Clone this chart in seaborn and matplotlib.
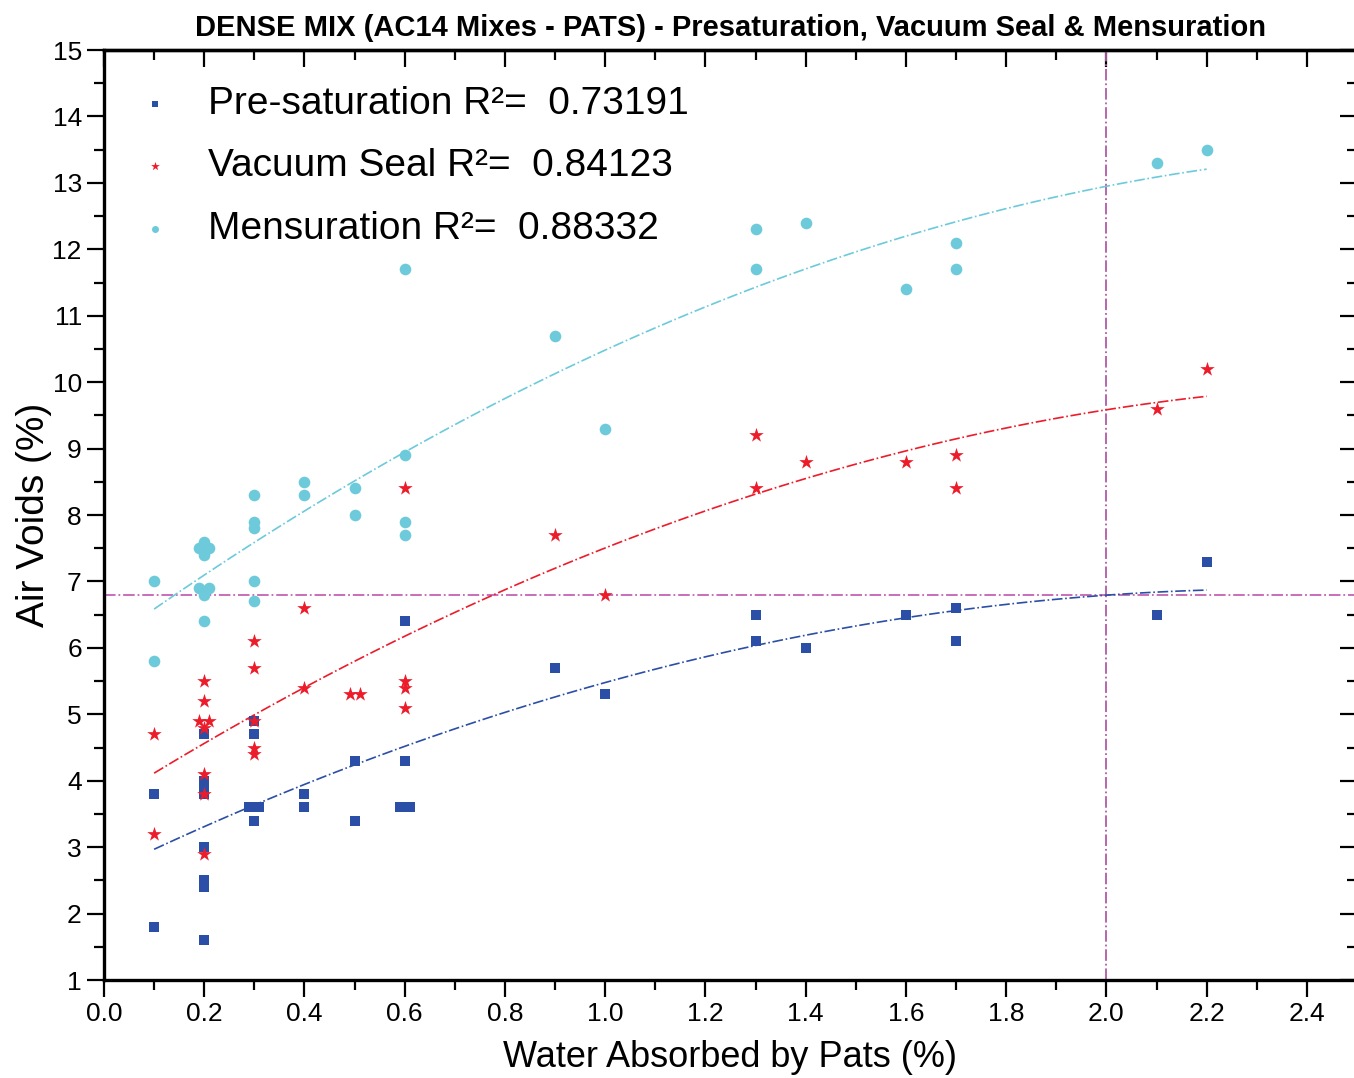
import matplotlib
matplotlib.use("Agg")
import matplotlib.pyplot as plt
import seaborn as sns
import pandas as pd
from matplotlib.ticker import MultipleLocator, FormatStrFormatter

# Pre-saturation (squares)
pre_x = [0.1, 0.1,
         0.2, 0.2, 0.2, 0.2, 0.2, 0.2, 0.2, 0.2,
         0.3, 0.3, 0.3, 0.29, 0.31,
         0.4, 0.4, 0.5, 0.5,
         0.6, 0.6, 0.59, 0.61,
         0.9, 1.0, 1.3, 1.3, 1.4, 1.6, 1.7, 1.7, 2.1, 2.2]
pre_y = [3.8, 1.8,
         4.7, 4.0, 3.9, 3.8, 3.0, 2.5, 2.4, 1.6,
         4.9, 4.7, 3.4, 3.6, 3.6,
         3.8, 3.6, 4.3, 3.4,
         6.4, 4.3, 3.6, 3.6,
         5.7, 5.3, 6.5, 6.1, 6.0, 6.5, 6.6, 6.1, 6.5, 7.3]

# Vacuum Seal (stars)
vac_x = [0.1, 0.1,
         0.2, 0.2, 0.19, 0.21, 0.2, 0.2, 0.2, 0.2,
         0.3, 0.3, 0.3, 0.3, 0.3,
         0.4, 0.4, 0.49, 0.51,
         0.6, 0.6, 0.6, 0.6,
         0.9, 1.0, 1.3, 1.3, 1.4, 1.6, 1.7, 1.7, 2.1, 2.2]
vac_y = [4.7, 3.2,
         5.5, 5.2, 4.9, 4.9, 4.8, 4.1, 3.8, 2.9,
         6.1, 5.7, 4.9, 4.5, 4.4,
         6.6, 5.4, 5.3, 5.3,
         8.4, 5.5, 5.4, 5.1,
         7.7, 6.8, 9.2, 8.4, 8.8, 8.8, 8.9, 8.4, 9.6, 10.2]

# Mensuration (circles)
men_x = [0.1, 0.1,
         0.2, 0.19, 0.21, 0.2, 0.19, 0.21, 0.2, 0.2,
         0.3, 0.3, 0.3, 0.3, 0.3,
         0.4, 0.4, 0.5, 0.5,
         0.6, 0.6, 0.6, 0.6,
         0.9, 1.0, 1.3, 1.3, 1.4, 1.6, 1.7, 1.7, 2.1, 2.2]
men_y = [7.0, 5.8,
         7.6, 7.5, 7.5, 7.4, 6.9, 6.9, 6.8, 6.4,
         8.3, 7.9, 7.8, 7.0, 6.7,
         8.5, 8.3, 8.4, 8.0,
         11.7, 8.9, 7.9, 7.7,
         10.7, 9.3, 12.3, 11.7, 12.4, 11.4, 12.1, 11.7, 13.3, 13.5]

labels = ["Pre-saturation R²=  0.73191",
          "Vacuum Seal R²=  0.84123",
          "Mensuration R²=  0.88332"]
colores = ["#2b4ea6", "#ec1c2a", "#6ccadb"]
markers = ["s", "*", "o"]
msizes = [55, 120, 70]
ref_y = 6.8
ref_x = 2.0

sns.set_style("ticks")
plt.rcParams['font.family'] = ['Liberation Sans Narrow', 'Liberation Sans', 'DejaVu Sans']
plt.rcParams.update({"text.color": "black", "axes.labelcolor": "black",
                     "xtick.color": "black", "ytick.color": "black",
                     "axes.edgecolor": "black"})

series = [(pre_x, pre_y), (vac_x, vac_y), (men_x, men_y)]

fig = plt.figure(figsize=(13.54, 10.78), dpi=100)
ax = fig.add_axes([0.0768, 0.0909, 0.9254, 0.8627])

for (xs, ys), lab, c, m, s in zip(series, labels, colores, markers, msizes):
    df = pd.DataFrame({"x": xs, "y": ys})
    sns.regplot(data=df, x="x", y="y", order=2, ci=None, truncate=True,
                scatter=False, ax=ax, color=c,
                line_kws={"linestyle": "-.", "linewidth": 1.2, "zorder": 2})
    sns.scatterplot(data=df, x="x", y="y", ax=ax, color=c, marker=m, s=s,
                    linewidth=0, label=lab, zorder=3)

ax.axhline(ref_y, color="#c462b4", linestyle="-.", linewidth=1.3, zorder=1)
ax.axvline(ref_x, color="#b05aa8", linestyle="-.", linewidth=1.3, zorder=1)

ax.set_xlim(0, 2.5)
ax.set_ylim(1, 15)
ax.xaxis.set_major_locator(MultipleLocator(0.2))
ax.xaxis.set_minor_locator(MultipleLocator(0.1))
ax.xaxis.set_major_formatter(FormatStrFormatter('%.1f'))
ax.yaxis.set_major_locator(MultipleLocator(1))
ax.yaxis.set_minor_locator(MultipleLocator(0.5))

for sp in ax.spines.values():
    sp.set_linewidth(2.4)
    sp.set_visible(True)

ax.tick_params(which="major", direction="out", length=12, width=1.6, labelsize=19, pad=4)
ax.tick_params(which="minor", direction="out", length=7, width=1.6)

top = ax.secondary_xaxis("top")
top.xaxis.set_major_locator(MultipleLocator(0.2))
top.xaxis.set_minor_locator(MultipleLocator(0.1))
top.tick_params(which="major", direction="in", length=12, width=1.6, labeltop=False)
top.tick_params(which="minor", direction="in", length=7, width=1.6)
top.spines["top"].set_linewidth(2.4)

right = ax.secondary_yaxis("right")
right.yaxis.set_major_locator(MultipleLocator(1))
right.yaxis.set_minor_locator(MultipleLocator(0.5))
right.tick_params(which="major", direction="in", length=12, width=1.6, labelright=False)
right.tick_params(which="minor", direction="in", length=7, width=1.6)

ax.set_xlabel("Water Absorbed by Pats (%)", fontsize=26, labelpad=10)
ax.set_ylabel("Air Voids (%)", fontsize=28, labelpad=0)
ax.set_title("DENSE MIX (AC14 Mixes - PATS) - Presaturation, Vacuum Seal & Mensuration",
             fontsize=21, fontweight="bold", pad=10)

leg = ax.legend(loc="upper left", bbox_to_anchor=(0.0128, 0.978), borderaxespad=0,
                frameon=False, fontsize=28, markerscale=0.6,
                handletextpad=0.86, labelspacing=0.68, handlelength=1.0)

fig.savefig("out.png", dpi=100)
